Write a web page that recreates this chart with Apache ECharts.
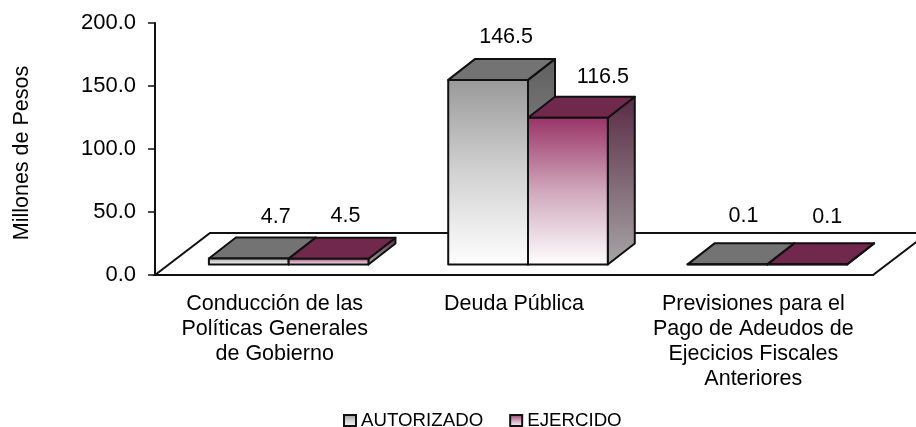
<!DOCTYPE html>
<html>
<head>
<meta charset="utf-8">
<style>html,body{margin:0;padding:0;background:#fff}#c{width:916px;height:427px;filter:blur(0.4px)}</style>
<script src="https://cdn.jsdelivr.net/npm/echarts@6/dist/echarts.min.js"></script>
</head>
<body>
<div id="c"></div>
<script>
const categories = [
  'Conducción de las\nPolíticas Generales\nde Gobierno',
  'Deuda Pública',
  'Previsiones para el\nPago de Adeudos de\nEjecicios Fiscales\nAnteriores'
];
const autorizado = [4.7, 146.5, 0.1];
const ejercido = [4.5, 116.5, 0.1];
const yTicks = { min: 0, max: 200, interval: 50 };
const yTitle = 'Millones de Pesos';
const seriesNames = ['AUTORIZADO', 'EJERCIDO'];

// layout constants (separate from the values)
const FLOOR = { dx: 55, dy: 42 };
const BAR = { dx: 27, dy: 21 };
const LABEL_SHIFT = [
  [[27, -41], [18, -43], [16, -48]],
  [[17, -43], [35, -41], [20, -47]]
];
const FONT = '"Liberation Sans", Arial, sans-serif';
const FS = 21.5;
const INK = '#111';
const grad = (stops) => new echarts.graphic.LinearGradient(0, 0, 0, 1,
  stops.map((c, i) => ({ offset: i / (stops.length - 1), color: c })));
const THEME = [
  { front: ['#999999', '#d2d2d2', '#ffffff'], top: '#737373', side: ['#5f5f5f', '#a6a6a6'] },
  { front: ['#993366', '#d0a8bc', '#ffffff'], top: '#70284c', side: ['#5a2a44', '#a6a6a6'] }
];

function bar3d(si) {
  const th = THEME[si];
  return function (params, api) {
    const cat = api.value(0), val = api.value(1);
    const base = api.coord([cat, 0]);
    const topPt = api.coord([cat, val]);
    const w = api.size([1, 0])[0] / 3;
    const sx = (FLOOR.dx - BAR.dx) / 2, sy = (FLOOR.dy - BAR.dy) / 2;
    const x0 = base[0] + sx - w + si * w, x1 = x0 + w;
    const yb = base[1] - sy, yt = topPt[1] - sy;
    const line = { stroke: INK, lineWidth: 2, lineJoin: 'round' };
    const shift = LABEL_SHIFT[si][cat];
    return {
      type: 'group',
      children: [
        { type: 'polygon', shape: { points: [[x1, yb], [x1 + BAR.dx, yb - BAR.dy], [x1 + BAR.dx, yt - BAR.dy], [x1, yt]] },
          style: Object.assign({ fill: grad(th.side) }, line) },
        { type: 'polygon', shape: { points: [[x0, yt], [x0 + BAR.dx, yt - BAR.dy], [x1 + BAR.dx, yt - BAR.dy], [x1, yt]] },
          style: Object.assign({ fill: th.top }, line) },
        { type: 'rect', shape: { x: x0, y: yt, width: w, height: yb - yt },
          style: Object.assign({ fill: grad(th.front) }, line) },
        { type: 'text', x: (x0 + x1) / 2 + shift[0], y: yt + shift[1],
          style: { text: val.toFixed(1), fill: '#000', font: FS + 'px ' + FONT, align: 'center', verticalAlign: 'middle' } }
      ]
    };
  };
}

function floor(params) {
  const g = params.coordSys;
  const bx = g.y + g.height, l = g.x, r = g.x + g.width;
  return {
    type: 'polygon',
    shape: { points: [[l, bx], [l + FLOOR.dx, bx - FLOOR.dy], [r + FLOOR.dx, bx - FLOOR.dy], [r, bx]] },
    style: { fill: '#fff', stroke: INK, lineWidth: 2 }
  };
}

const toRows = arr => arr.map((v, i) => [i, v]);
const chart = echarts.init(document.getElementById('c'), null, { renderer: 'canvas' });
chart.setOption({
  animation: false,
  backgroundColor: '#fff',
  grid: { left: 155, right: 43, top: 23, bottom: 152, containLabel: false, outerBoundsMode: 'none' },
  legend: {
    left: 343, top: 411, padding: 0, itemWidth: 12, itemHeight: 11, itemGap: 26, icon: 'rect',
    selectedMode: false,
    textStyle: { color: '#000', fontFamily: FONT, fontSize: 18.7 },
    data: seriesNames.map((n, i) => ({
      name: n, icon: 'rect',
      itemStyle: { color: grad(THEME[i].front), borderColor: INK, borderWidth: 2 }
    }))
  },
  xAxis: {
    type: 'category', data: categories, z: 5,
    axisLine: { lineStyle: { color: INK, width: 2 } },
    axisTick: { alignWithLabel: false, length: 8, lineStyle: { color: INK, width: 1.5 } },
    axisLabel: { color: '#000', fontFamily: FONT, fontSize: FS, lineHeight: 25.2, margin: 16, interval: 0 }
  },
  yAxis: {
    type: 'value', min: yTicks.min, max: yTicks.max, interval: yTicks.interval, z: 5,
    name: yTitle, nameLocation: 'middle', nameGap: 122, nameRotate: 90,
    nameTextStyle: { color: '#000', fontFamily: FONT, fontSize: FS, padding: [0, 8, 0, 0] },
    splitLine: { show: false },
    axisLine: { show: true, lineStyle: { color: INK, width: 2 } },
    axisTick: { show: true, length: 7, lineStyle: { color: INK, width: 1.5 } },
    axisLabel: { color: '#000', fontFamily: FONT, fontSize: 22, margin: 19, padding: [4, 0, 0, 0],
      formatter: v => v.toFixed(1) }
  },
  series: [
    { type: 'custom', name: 'floor', z: 1, renderItem: floor, data: [[0, 0]], silent: true },
    { type: 'custom', name: seriesNames[0], z: 2, renderItem: bar3d(0), encode: { x: 0, y: 1 }, data: toRows(autorizado), itemStyle: { color: '#999' } },
    { type: 'custom', name: seriesNames[1], z: 3, renderItem: bar3d(1), encode: { x: 0, y: 1 }, data: toRows(ejercido), itemStyle: { color: '#993366' } }
  ]
});
</script>
</body>
</html>
